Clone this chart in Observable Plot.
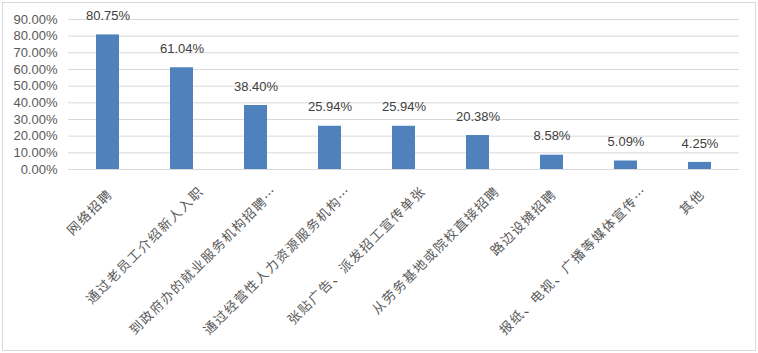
<!DOCTYPE html>
<html>
<head>
<meta charset="utf-8">
<script src="https://cdn.jsdelivr.net/npm/d3@7"></script>
<script src="https://cdn.jsdelivr.net/npm/@observablehq/plot@0.6"></script>
<style>
  html, body { margin: 0; padding: 0; background: #fff; }
  #wrap { position: relative; width: 758px; height: 353px; }
  #border { position: absolute; left: 2px; top: 2px; width: 752px; height: 347px; border: 1px solid #d9d9d9; pointer-events: none; }
  text[aria-label="xlabel"] { letter-spacing: 1.5px; }
</style>
</head>
<body>
<div id="wrap"><div id="border"></div></div>
<script>
const categories = [
  "网络招聘",
  "通过老员工介绍新人入职",
  "到政府办的就业服务机构招聘…",
  "通过经营性人力资源服务机构…",
  "张贴广告、派发招工宣传单张",
  "从劳务基地或院校直接招聘",
  "路边设摊招聘",
  "报纸、电视、广播等媒体宣传…",
  "其他"
];
const values = [80.75, 61.04, 38.40, 25.94, 25.94, 20.38, 8.58, 5.09, 4.25];
const yTicks = [0, 10, 20, 30, 40, 50, 60, 70, 80, 90];

const data = categories.map((c, i) => ({c, v: values[i]}));
const isLong = d => d.c.length >= 10;
const cjk = "'Noto Sans CJK SC', sans-serif";
const num = "'Liberation Sans', Arial, sans-serif";

const chart = Plot.plot({
  width: 758,
  height: 353,
  marginLeft: 68,
  marginRight: 19,
  marginTop: 19,
  marginBottom: 184,
  style: {fontFamily: num, background: "transparent"},
  x: {domain: categories, paddingInner: 0.69, paddingOuter: 0.345, axis: null},
  y: {domain: [0, 90], axis: null},
  marks: [
    Plot.gridY(yTicks, {stroke: "#d9d9d9", strokeOpacity: 1}),
    Plot.axisY(yTicks, {tickSize: 0, tickPadding: 11, tickFormat: d => d.toFixed(2) + "%", fontSize: 13, color: "#595959", fontFamily: num, label: null}),
    Plot.barY(data, {x: "c", y: "v", fill: "#4f81bd"}),
    Plot.text(data, {x: "c", y: "v", text: d => d.v.toFixed(2) + "%", dy: -19, fontSize: 13, fill: "#404040", fontFamily: num}),
    Plot.text(data.filter(isLong), {x: "c", frameAnchor: "bottom", text: "c", rotate: -45, textAnchor: "end", lineAnchor: "top", dx: 16, dy: 16, fontSize: 13, fill: "#595959", fontFamily: cjk, ariaLabel: () => "xlabel"}),
    Plot.text(data.filter(d => !isLong(d)), {x: "c", frameAnchor: "bottom", text: "c", rotate: -45, textAnchor: "end", lineAnchor: "top", dx: -1, dy: 19, fontSize: 13, fill: "#595959", fontFamily: cjk, ariaLabel: () => "xlabel"})
  ]
});
document.getElementById("wrap").prepend(chart);
</script>
</body>
</html>
